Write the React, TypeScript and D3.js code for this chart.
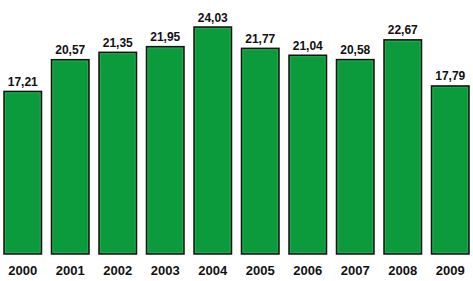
import React from "react";
import * as d3 from "d3";

const years = ["2000", "2001", "2002", "2003", "2004", "2005", "2006", "2007", "2008", "2009"];
const values = [17.21, 20.57, 21.35, 21.95, 24.03, 21.77, 21.04, 20.58, 22.67, 17.79];
const valueLabels = ["17,21", "20,57", "21,35", "21,95", "24,03", "21,77", "21,04", "20,58", "22,67", "17,79"];

const W = 473;
const H = 281;

export default function App() {
  const x = d3.scaleBand<string>().domain(years).range([-1, 474]).paddingInner(0.21).paddingOuter(0.105);
  const y = d3.scaleLinear().domain([0, 24.03]).range([254, 27]);
  return (
    <svg width={W} height={H} style={{ position: "absolute", left: 0, top: 0, background: "#fff" }}>
      {years.map((yr, i) => {
        const bx = x(yr)!;
        const by = y(values[i]);
        const bw = x.bandwidth();
        const bh = y(0) - by;
        const cx = bx + bw / 2;
        return (
          <g key={yr}>
            <rect x={bx} y={by} width={bw} height={bh} fill="#0b9a3c" stroke="#1c0f17" strokeWidth={1.5} />
            <rect x={bx + 1.5} y={by + 1.5} width={bw - 3} height={bh - 3} fill="none" stroke="#22b04c" strokeWidth={0.8} />
            <text x={cx} y={by - 5.5} textAnchor="middle" fontFamily="'Liberation Sans', Arial, sans-serif" fontWeight="bold" fontSize={12} fill="#111">
              {valueLabels[i]}
            </text>
            <text x={cx} y={275} textAnchor="middle" fontFamily="'Liberation Sans', Arial, sans-serif" fontWeight="bold" fontSize={13} fill="#111">
              {yr}
            </text>
          </g>
        );
      })}
    </svg>
  );
}
